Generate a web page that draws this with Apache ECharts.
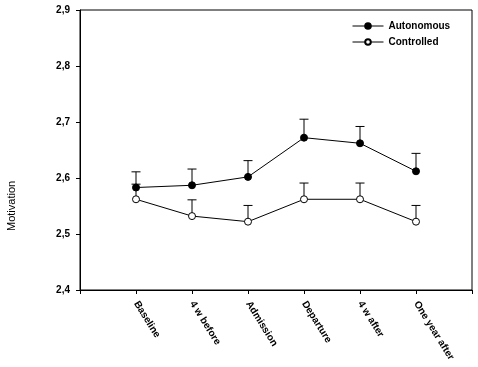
<!DOCTYPE html>
<html><head><meta charset="utf-8">
<script src="https://cdn.jsdelivr.net/npm/echarts@6/dist/echarts.min.js"></script>
<style>html,body{margin:0;padding:0;background:#fff}#c{width:478px;height:367px}</style>
</head><body><div id="c"></div>
<script>
const categories = ['Baseline', '4 w before', 'Admission', 'Departure', '4 w after', 'One year after'];
const autonomous = [2.583, 2.587, 2.602, 2.672, 2.662, 2.612];
const autonomousErrTop = [2.611, 2.616, 2.631, 2.705, 2.692, 2.644];
const controlled = [2.562, 2.532, 2.522, 2.562, 2.562, 2.522];
const controlledErrTop = [2.589, 2.561, 2.551, 2.591, 2.591, 2.551];
const yTicks = [2.4, 2.5, 2.6, 2.7, 2.8, 2.9];

const FONT = 'Liberation Sans, Arial, sans-serif';
const toPts = arr => arr.map((v, i) => [i + 1, v]);
const toErr = (m, t) => m.map((v, i) => [i + 1, v, t[i]]);

function errItem(params, api) {
  const x = api.value(0);
  const p0 = api.coord([x, api.value(1)]);
  const p1 = api.coord([x, api.value(2)]);
  const w = 4.5;
  const st = { stroke: '#000', lineWidth: 1 };
  return { type: 'group', children: [
    { type: 'line', shape: { x1: p0[0], y1: p0[1], x2: p1[0], y2: p1[1] }, style: st },
    { type: 'line', shape: { x1: p1[0] - w, y1: p1[1], x2: p1[0] + w, y2: p1[1] }, style: st }
  ]};
}

const chart = echarts.init(document.getElementById('c'));
chart.setOption({
  animation: false,
  backgroundColor: '#fff',
  grid: { left: 80, right: 6, top: 10, bottom: 77, show: true, borderColor: '#000', borderWidth: 1 },
  legend: {
    left: 352, top: 21, padding: 0, orient: 'vertical', itemWidth: 31, itemHeight: 7, itemGap: 6,
    lineStyle: { width: 1 },
    textStyle: { fontFamily: FONT, fontWeight: 'bold', fontSize: 10, color: '#000' },
    data: ['Autonomous', 'Controlled']
  },
  xAxis: {
    type: 'value', min: 0, max: 7, interval: 1,
    splitLine: { show: false },
    axisLine: { lineStyle: { color: '#000', width: 1 } },
    axisTick: { show: true, length: 4, lineStyle: { color: '#000' } },
    axisLabel: {
      rotate: -58, margin: 12, color: '#000', fontFamily: FONT, fontWeight: 'bold', fontSize: 10,
      formatter: v => categories[v - 1] || ''
    }
  },
  yAxis: {
    type: 'value', min: yTicks[0], max: yTicks[yTicks.length - 1], interval: 0.1,
    splitLine: { show: false },
    axisLine: { show: true, lineStyle: { color: '#000', width: 1 } },
    axisTick: { show: true, length: 4, lineStyle: { color: '#000' } },
    axisLabel: { color: '#000', fontFamily: FONT, fontWeight: 'bold', fontSize: 10, margin: 10,
      formatter: v => v.toFixed(1).replace('.', ',') }
  },
  graphic: [{
    type: 'text', rotation: Math.PI / 2,
    style: { text: 'Motivation', fontFamily: FONT, fontSize: 11, fill: '#000' },
    x: 6, y: 231
  }],
  series: [
    { name: 'errA', type: 'custom', renderItem: errItem, data: toErr(autonomous, autonomousErrTop), z: 1, silent: true },
    { name: 'errC', type: 'custom', renderItem: errItem, data: toErr(controlled, controlledErrTop), z: 1, silent: true },
    { name: 'Autonomous', type: 'line', data: toPts(autonomous), symbol: 'circle', symbolSize: 7, z: 3,
      lineStyle: { color: '#000', width: 1 }, itemStyle: { color: '#000', borderColor: '#000', borderWidth: 1 } },
    { name: 'Controlled', type: 'line', data: toPts(controlled), symbol: 'circle', symbolSize: 7, z: 3,
      lineStyle: { color: '#000', width: 1 }, itemStyle: { color: '#fff', borderColor: '#000', borderWidth: 1 } }
  ]
});
</script></body></html>
